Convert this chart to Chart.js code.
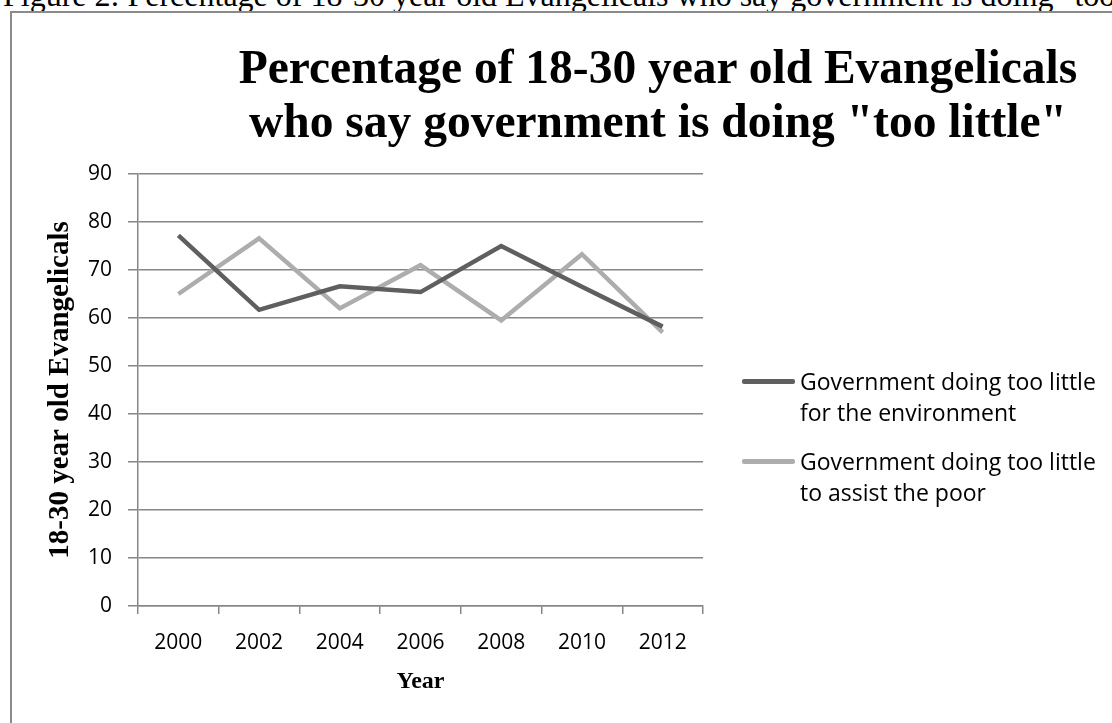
<!DOCTYPE html>
<html>
<head>
<meta charset="utf-8">
<script src="https://cdn.jsdelivr.net/npm/chart.js@4.4.1/dist/chart.umd.min.js"></script>
<style>
  html, body { margin: 0; padding: 0; background: #fff; overflow: hidden; }
  body { width: 1112px; height: 723px; position: relative; }
  #caption {
    position: absolute; left: 3px; top: -21px;
    font: 32px/32px "Liberation Serif", "Times New Roman", serif;
    white-space: nowrap; color: #000;
  }
  #frame {
    position: absolute; left: 10px; top: 11px; width: 1120px; height: 720px;
    border: 2px solid #8a8a8a; box-sizing: border-box;
  }
  #title {
    position: absolute; left: 0; top: 40px; width: 1316px; text-align: center;
    font: bold 47.5px/54px "Liberation Serif", "Times New Roman", serif;
    white-space: nowrap; color: #000;
  }
  #chartWrap { position: absolute; left: 11px; top: 12px; width: 1101px; height: 711px; }
  #legend { position: absolute; left: 742px; top: 0; font: 23px/31px "Open Sans", sans-serif; color: #000; }
  .item { position: absolute; left: 0; white-space: nowrap; }
  .swatch { position: absolute; left: 0; top: 13px; width: 53px; height: 5px; border-radius: 2px; }
  .label { position: absolute; left: 58px; top: 0; }
</style>
</head>
<body>
<div id="caption">Figure 2: Percentage of 18-30 year old Evangelicals who say government is doing "too little"</div>
<div id="frame"></div>
<div id="chartWrap"><canvas id="chart" width="1101" height="711"></canvas></div>
<div id="title">Percentage of 18-30 year old Evangelicals<br>who say government is doing "too little"</div>
<div id="legend"></div>
<script>
const years = ['2000', '2002', '2004', '2006', '2008', '2010', '2012'];
const environment = [77.2, 61.7, 66.6, 65.4, 75.0, 66.5, 58.2];
const poor = [65.0, 76.6, 62.0, 71.0, 59.5, 73.3, 57.0];
const seriesNames = [
    ['Government doing too little', 'for the environment'],
    ['Government doing too little', 'to assist the poor']
];
const yTicks = [0, 10, 20, 30, 40, 50, 60, 70, 80, 90];

const gridColor = '#878787';
const tickFont = { family: 'Open Sans', size: 21 };
const serifBold = { family: 'Liberation Serif', weight: 'bold' };

const chart = new Chart(document.getElementById('chart'), {
    type: 'line',
    data: {
        labels: years,
        datasets: [
            {
                label: seriesNames[0].join(' '),
                data: environment,
                borderColor: '#5f5f5f',
                borderWidth: 4.5,
                pointRadius: 0,
                tension: 0
            },
            {
                label: seriesNames[1].join(' '),
                data: poor,
                borderColor: '#adadad',
                borderWidth: 4.5,
                pointRadius: 0,
                tension: 0
            }
        ]
    },
    options: {
        responsive: false,
        animation: false,
        layout: { padding: { left: 0, right: 409, top: 162, bottom: 0 } },
        plugins: {
            legend: { display: false },
            tooltip: { enabled: false },
            title: { display: false }
        },
        scales: {
            x: {
                offset: true,
                afterFit: s => { s.height = 117; },
                grid: {
                    offset: true,
                    drawOnChartArea: false,
                    drawTicks: true,
                    tickLength: 8,
                    color: gridColor,
                    lineWidth: 1.5
                },
                border: { display: true, color: gridColor, width: 1.5 },
                ticks: { color: '#000', font: tickFont, padding: 16, maxRotation: 0 },
                title: {
                    display: true,
                    text: 'Year',
                    color: '#000',
                    font: { ...serifBold, size: 24, lineHeight: 1.2 },
                    padding: { top: 0, bottom: 27 }
                }
            },
            y: {
                min: 0,
                max: 90,
                afterFit: s => { s.width = 127; },
                afterBuildTicks: s => { s.ticks = yTicks.map(v => ({ value: v })); },
                grid: {
                    color: gridColor,
                    lineWidth: 1.5,
                    tickLength: 10
                },
                border: { display: true, color: gridColor, width: 1.5 },
                ticks: { color: '#000', font: tickFont, padding: 16 },
                title: {
                    display: true,
                    text: '18-30 year old Evangelicals',
                    color: '#000',
                    font: { ...serifBold, size: 29, lineHeight: 1.2 },
                    padding: { top: 32, bottom: 0 }
                }
            }
        }
    }
});

// legend beside the plot, built from the datasets
const legendEl = document.getElementById('legend');
const legendTops = [366, 446];
chart.data.datasets.forEach((ds, i) => {
    const item = document.createElement('div');
    item.className = 'item';
    item.style.top = legendTops[i] + 'px';
    const sw = document.createElement('div');
    sw.className = 'swatch';
    sw.style.background = ds.borderColor;
    const lab = document.createElement('div');
    lab.className = 'label';
    lab.innerHTML = seriesNames[i].join('<br>');
    item.appendChild(sw);
    item.appendChild(lab);
    legendEl.appendChild(item);
});
</script>
</body>
</html>
